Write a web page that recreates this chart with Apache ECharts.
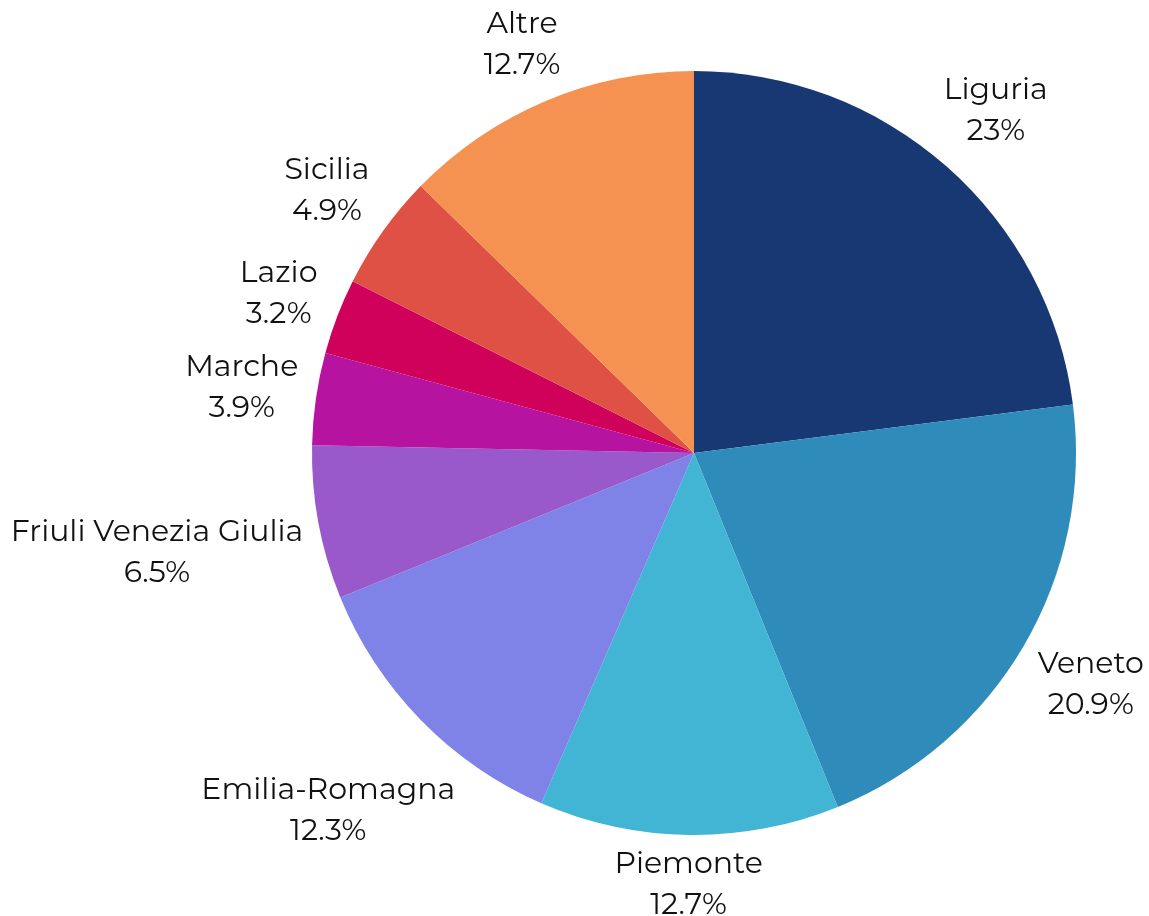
<!DOCTYPE html>
<html>
<head>
<meta charset="utf-8">
<script src="https://cdn.jsdelivr.net/npm/echarts@6/dist/echarts.min.js"></script>
<style>
  html, body { margin: 0; padding: 0; background: #fff; }
  #chart { width: 1149px; height: 916px; }
</style>
</head>
<body>
<div id="chart"></div>
<script>
const regions = ['Liguria', 'Veneto', 'Piemonte', 'Emilia-Romagna', 'Friuli Venezia Giulia', 'Marche', 'Lazio', 'Sicilia', 'Altre'];
const shares = [23, 20.9, 12.7, 12.3, 6.5, 3.9, 3.2, 4.9, 12.7];
const sliceColors = ['#183873', '#2e8bba', '#42b5d5', '#7f82e6', '#9a59cb', '#b713a1', '#d0015a', '#df5045', '#f59251'];

const myChart = echarts.init(document.getElementById('chart'));

// put each label outside the slice, centred on the slice's mid angle
const labelGap = 14;
const placeLabel = (params) => {
  const data = myChart.getModel().getSeriesByIndex(0).getData();
  const lay = data.getItemLayout(params.dataIndex);
  const mid = (lay.startAngle + lay.endAngle) / 2;
  const dx = Math.cos(mid);
  const dy = Math.sin(mid);
  const w = params.labelRect.width;
  const h = params.labelRect.height - 12; // ignore the empty leading
  const t = Math.abs(dx) * w / 2 + Math.abs(dy) * h / 2;
  const d = lay.r + labelGap + t;
  return {
    x: lay.cx + dx * d,
    y: lay.cy + dy * d,
    align: 'center',
    verticalAlign: 'middle'
  };
};

myChart.setOption({
  backgroundColor: '#fff',
  animation: false,
  series: [{
    type: 'pie',
    center: [694, 453],
    radius: 382,
    startAngle: 90,
    clockwise: true,
    avoidLabelOverlap: false,
    data: regions.map((name, i) => ({
      name,
      value: shares[i],
      itemStyle: { color: sliceColors[i] }
    })),
    label: {
      show: true,
      position: 'outside',
      formatter: (p) => p.name + '\n' + shares[p.dataIndex] + '%',
      fontFamily: 'Montserrat, Inter, "Noto Sans", sans-serif',
      fontSize: 30,
      lineHeight: 41,
      color: '#111',
      align: 'center'
    },
    labelLine: { show: false },
    labelLayout: placeLabel,
    itemStyle: { borderWidth: 0 }
  }]
});

window.addEventListener('resize', () => myChart.resize());
</script>
</body>
</html>
